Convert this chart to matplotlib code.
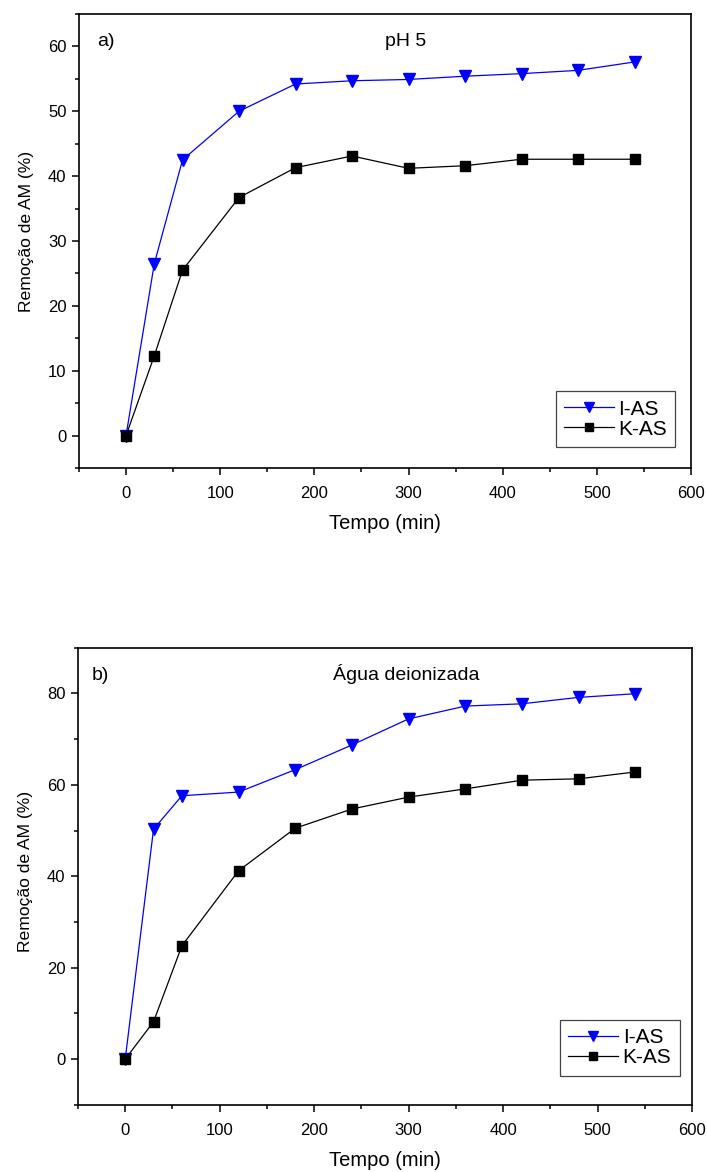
"""Remoção de AM ao longo do tempo: pH 5 e água deionizada."""

import matplotlib
matplotlib.use('Agg')
import matplotlib.pyplot as plt
from matplotlib.ticker import MultipleLocator

plt.rcParams['font.family'] = ['Liberation Sans', 'DejaVu Sans']

tempo = [0, 30, 60, 120, 180, 240, 300, 360, 420, 480, 540]

# a) pH 5
ias_ph5 = [0, 26.5, 42.5, 50.0, 54.2, 54.7, 54.9, 55.4, 55.8, 56.3, 57.6]
kas_ph5 = [0, 12.3, 25.5, 36.7, 41.3, 43.1, 41.2, 41.6, 42.6, 42.6, 42.6]

# b) água deionizada
ias_agua = [0, 50.3, 57.6, 58.4, 63.3, 68.7, 74.4, 77.2, 77.7, 79.1, 79.9]
kas_agua = [0, 8.2, 24.8, 41.2, 50.5, 54.7, 57.3, 59.1, 61.0, 61.3, 62.8]

fig = plt.figure(figsize=(7.07, 11.72), dpi=100)
ax_a = fig.add_axes([0.1117, 0.6007, 0.8657, 0.3874])
ax_b = fig.add_axes([0.1103, 0.0572, 0.8685, 0.3903])


def draw_panel(ax, ias, kas, ylim, major, minor, tag, tag_x, title, title_x,
               leg_anchor, ylab_y):
    ax.plot(tempo, ias, color='blue', linewidth=0.9, marker='v',
            markersize=9, label='I-AS')
    ax.plot(tempo, kas, color='black', linewidth=0.9, marker='s',
            markersize=7, label='K-AS')
    ax.set_xlim(-50, 600)
    ax.set_ylim(*ylim)
    ax.xaxis.set_major_locator(MultipleLocator(100))
    ax.xaxis.set_minor_locator(MultipleLocator(50))
    ax.yaxis.set_major_locator(MultipleLocator(major))
    ax.yaxis.set_minor_locator(MultipleLocator(minor))
    ax.tick_params(which='major', direction='out', length=5, width=1.1,
                   labelsize=12)
    ax.tick_params(axis='x', which='major', pad=8)
    ax.tick_params(axis='y', which='major', pad=4)
    ax.tick_params(which='minor', direction='out', length=3, width=1.1)
    for s in ax.spines.values():
        s.set_linewidth(1.2)
    ax.set_xlabel('Tempo (min)', fontsize=14.5, labelpad=9)
    ax.set_ylabel('Remoção de AM (%)', fontsize=12.6)
    ax.yaxis.set_label_coords(-0.073, ylab_y)
    ax.text(tag_x, 0.93, tag, transform=ax.transAxes, fontsize=14,
            va='baseline')
    ax.text(title_x, 0.93, title, transform=ax.transAxes, fontsize=14,
            va='baseline')
    leg = ax.legend(loc='lower right', bbox_to_anchor=leg_anchor,
                    fontsize=15, fancybox=False, framealpha=1,
                    edgecolor='#444444', handlelength=2.4,
                    handletextpad=0.2, borderpad=0.4, labelspacing=0.05,
                    borderaxespad=0, markerscale=0.85)
    leg.get_frame().set_linewidth(0.9)


draw_panel(ax_a, ias_ph5, kas_ph5, (-5, 65), 10, 5, 'a)', 0.03,
           'pH 5', 0.5, (0.974, 0.046), 0.522)
draw_panel(ax_b, ias_agua, kas_agua, (-10, 90), 20, 10, 'b)', 0.023,
           'Água deionizada', 0.415, (0.98, 0.064), 0.51)

fig.savefig('out.png', dpi=100)
